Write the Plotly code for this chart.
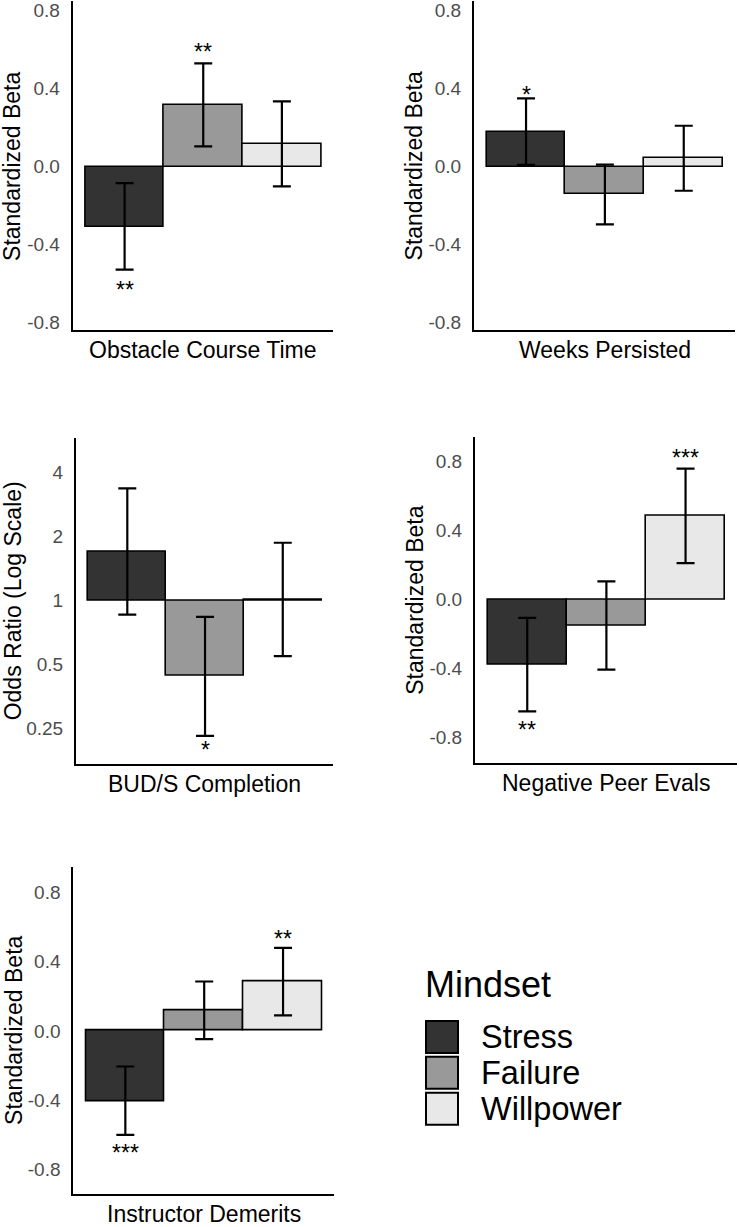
import numpy as np
import plotly.graph_objects as go

W, H = 739, 1227

# ---------------- data ----------------
mindsets = ["Stress", "Failure", "Willpower"]
bar_colors = ["#333333", "#999999", "#E8E8E8"]

outcomes = ["Obstacle Course Time", "Weeks Persisted", "BUD/S Completion",
            "Negative Peer Evals", "Instructor Demerits"]
y_titles = ["Standardized Beta", "Standardized Beta", "Odds Ratio (Log Scale)",
            "Standardized Beta", "Standardized Beta"]

obstacle_beta = [-0.310, 0.315, 0.114]
obstacle_lo = [-0.528, 0.103, -0.102]
obstacle_hi = [-0.085, 0.528, 0.334]
obstacle_stars = ["**", "**", ""]
obstacle_star_y = [-0.608, 0.614, None]

weeks_beta = [0.179, -0.143, 0.046]
weeks_lo = [0.009, -0.296, -0.124]
weeks_hi = [0.349, 0.010, 0.209]
weeks_stars = ["*", "", ""]
weeks_star_y = [0.392, None, None]

buds_or = [1.70, 0.443, 1.01]
buds_lo = [0.858, 0.231, 0.548]
buds_hi = [3.37, 0.837, 1.87]
buds_stars = ["", "*", ""]
buds_star_y = [None, 0.209, None]

peer_beta = [-0.377, -0.150, 0.486]
peer_lo = [-0.647, -0.406, 0.212]
peer_hi = [-0.106, 0.106, 0.760]
peer_stars = ["**", "", "***"]
peer_star_y = [-0.728, None, 0.852]

demerit_beta = [-0.408, 0.119, 0.284]
demerit_lo = [-0.602, -0.048, 0.090]
demerit_hi = [-0.206, 0.286, 0.481]
demerit_stars = ["***", "", "**"]
demerit_star_y = [-0.679, None, 0.563]

beta_ticks = [-0.8, -0.4, 0.0, 0.4, 0.8]
beta_ticktext = ["-0.8", "-0.4", "0.0", "0.4", "0.8"]
or_ticks = [0.25, 0.5, 1, 2, 4]
or_ticktext = ["0.25", "0.5", "1", "2", "4"]

# ---------------- layout helpers ----------------
def px_x(p):
    return p / W

def px_y(p):
    return 1 - p / H

FONT = "Liberation Sans, Arial, Helvetica, sans-serif"

panels = [
    dict(vals=obstacle_beta, lo=obstacle_lo, hi=obstacle_hi, stars=obstacle_stars, sy=obstacle_star_y,
         log=False, xd=(72.7, 333), yd=(0, 330), yr=[-0.837, 0.848],
         xt=(202.8, 350), yt=(12.5, 166)),
    dict(vals=weeks_beta, lo=weeks_lo, hi=weeks_hi, stars=weeks_stars, sy=weeks_star_y,
         log=False, xd=(474, 735), yd=(0, 330), yr=[-0.837, 0.848],
         xt=(604.5, 350), yt=(414, 166)),
    dict(vals=buds_or, lo=buds_lo, hi=buds_hi, stars=buds_stars, sy=buds_star_y,
         log=True, xd=(76, 333.3), yd=(438.3, 765.7), yr=[-0.770, 0.7652],
         xt=(204.7, 786), yt=(13.3, 602)),
    dict(vals=peer_beta, lo=peer_lo, hi=peer_hi, stars=peer_stars, sy=peer_star_y,
         log=False, xd=(475, 737), yd=(437.3, 764), yr=[-0.944, 0.944],
         xt=(606, 785), yt=(414.7, 601)),
    dict(vals=demerit_beta, lo=demerit_lo, hi=demerit_hi, stars=demerit_stars, sy=demerit_star_y,
         log=False, xd=(73.3, 334.3), yd=(869.3, 1196.7), yr=[-0.943, 0.946],
         xt=(203.8, 1216.7), yt=(13.3, 1033)),
]

fig = go.Figure()
annotations = []
layout_axes = {}

for k, p in enumerate(panels):
    n = k + 1
    xa = "x" if n == 1 else f"x{n}"
    ya = "y" if n == 1 else f"y{n}"
    xkey = "xaxis" if n == 1 else f"xaxis{n}"
    ykey = "yaxis" if n == 1 else f"yaxis{n}"
    for i, m in enumerate(mindsets):
        v = p["vals"][i]
        if p["log"]:
            ylen = v - 1.0
            base = 1.0
        else:
            ylen = v
            base = 0.0
        fig.add_trace(go.Bar(
            x=[i], y=[ylen], base=[base], width=1.0,
            name=m, showlegend=False,
            marker=dict(color=bar_colors[i], line=dict(color="black", width=1.6)),
            error_y=dict(type="data", symmetric=False,
                         array=[p["hi"][i] - v], arrayminus=[v - p["lo"][i]],
                         color="black", thickness=2.2, width=9),
            xaxis=xa, yaxis=ya,
        ))
        if p["stars"][i]:
            sy = p["sy"][i]
            annotations.append(dict(
                x=i, y=np.log10(sy) if p["log"] else sy, xref=xa, yref=ya,
                text=p["stars"][i], showarrow=False, yshift=-5,
                font=dict(family=FONT, size=23, color="black"),
                xanchor="center", yanchor="middle"))
    layout_axes[xkey] = dict(
        domain=[px_x(p["xd"][0]), px_x(p["xd"][1])], range=[-0.66, 2.65],
        anchor=ya, showline=True, linecolor="black", linewidth=2,
        showgrid=False, zeroline=False, showticklabels=False, ticks="",
        fixedrange=True)
    ycfg = dict(
        domain=[px_y(p["yd"][1]), px_y(p["yd"][0])], range=p["yr"],
        anchor=xa, showline=True, linecolor="black", linewidth=2,
        showgrid=False, zeroline=False, ticks="", ticklabelstandoff=7,
        ticklabeloverflow="allow",
        tickfont=dict(family=FONT, size=19, color="#4d4d4d"), fixedrange=True)
    if p["log"]:
        ycfg.update(type="log", tickvals=or_ticks, ticktext=or_ticktext)
    else:
        ycfg.update(tickvals=beta_ticks, ticktext=beta_ticktext)
    layout_axes[ykey] = ycfg
    # axis titles
    annotations.append(dict(
        x=px_x(p["xt"][0]), y=px_y(p["xt"][1]), xref="paper", yref="paper",
        text=outcomes[k], showarrow=False, xanchor="center", yanchor="middle",
        font=dict(family=FONT, size=23, color="black")))
    annotations.append(dict(
        x=px_x(p["yt"][0]), y=px_y(p["yt"][1]), xref="paper", yref="paper",
        text=y_titles[k], showarrow=False, textangle=-90,
        xanchor="center", yanchor="middle",
        font=dict(family=FONT, size=23, color="black")))

# ---------------- legend (drawn as its own small panel) ----------------
fig.add_trace(go.Scatter(
    x=[0, 0, 0], y=[0, 1, 2], mode="markers", showlegend=False,
    marker=dict(symbol="square", size=32, color=bar_colors,
                line=dict(color="black", width=2)),
    xaxis="x6", yaxis="y6", hoverinfo="skip"))
for i, m in enumerate(mindsets):
    annotations.append(dict(
        x=1.08, y=i, xref="x6", yref="y6", text=m, showarrow=False,
        xanchor="left", yanchor="middle",
        font=dict(family=FONT, size=32.5, color="black")))
annotations.append(dict(
    x=px_x(423), y=px_y(986.7), xref="paper", yref="paper", text="Mindset",
    showarrow=False, xanchor="left", yanchor="middle",
    font=dict(family=FONT, size=36, color="black")))
layout_axes["xaxis6"] = dict(domain=[px_x(425), 1.0], range=[-0.5, (739 - 425) / 34 - 0.5],
                             anchor="y6", visible=False, fixedrange=True)
layout_axes["yaxis6"] = dict(domain=[px_y(1129.3), px_y(1021.3)], range=[2.5, -0.5],
                             anchor="x6", visible=False, fixedrange=True)

fig.update_layout(
    width=W, height=H, autosize=False,
    margin=dict(l=0, r=0, t=0, b=0),
    paper_bgcolor="white", plot_bgcolor="white",
    barmode="overlay", bargap=0,
    annotations=annotations,
    **layout_axes,
)

fig.write_html("out.html", config={"displayModeBar": False},
               post_script="document.body.style.margin='0px';document.body.style.overflow='hidden';")
